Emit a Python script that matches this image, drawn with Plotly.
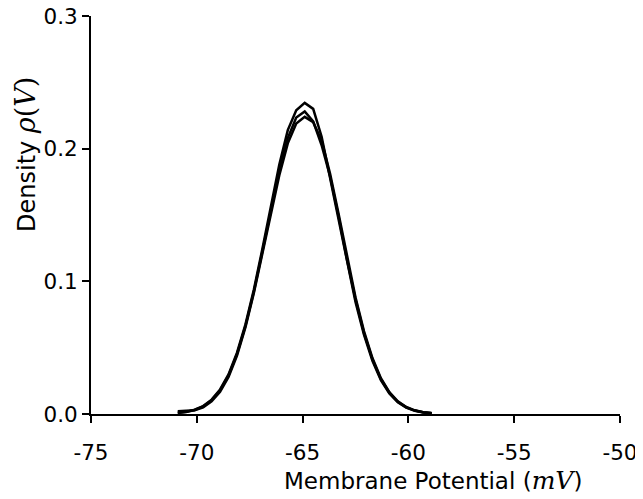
import plotly.graph_objects as go

# Membrane potential grid (mV)
potential = [-70.9, -70.5, -70.1, -69.7, -69.3, -68.9, -68.5, -68.1, -67.7, -67.3,
             -66.9, -66.5, -66.1, -65.7, -65.3, -64.9, -64.5, -64.1, -63.7, -63.3,
             -62.9, -62.5, -62.1, -61.7, -61.3, -60.9, -60.5, -60.1, -59.7, -59.3, -58.9]

density_a = [0.0010, 0.0016, 0.0032, 0.0060, 0.0108, 0.0185, 0.0298, 0.0462, 0.0676, 0.0940,
             0.1245, 0.1570, 0.1880, 0.2140, 0.2290, 0.2345, 0.2300, 0.2090, 0.1780, 0.1460,
             0.1135, 0.0845, 0.0598, 0.0400, 0.0255, 0.0155, 0.0088, 0.0048, 0.0024, 0.0011, 0.0005]

density_b = [0.0008, 0.0015, 0.0030, 0.0057, 0.0104, 0.0179, 0.0291, 0.0451, 0.0664, 0.0925,
             0.1225, 0.1540, 0.1837, 0.2080, 0.2235, 0.2280, 0.2206, 0.2026, 0.1790, 0.1490,
             0.1160, 0.0865, 0.0612, 0.0412, 0.0262, 0.0160, 0.0092, 0.0050, 0.0026, 0.0013, 0.0006]

density_c = [0.0020, 0.0022, 0.0028, 0.0050, 0.0095, 0.0168, 0.0280, 0.0440, 0.0655, 0.0915,
             0.1210, 0.1515, 0.1800, 0.2040, 0.2190, 0.2240, 0.2200, 0.2060, 0.1810, 0.1510,
             0.1180, 0.0880, 0.0625, 0.0422, 0.0270, 0.0165, 0.0096, 0.0053, 0.0028, 0.0014, 0.0007]

x_ticks = [-75, -70, -65, -60, -55, -50]
x_ticklabels = ["-75", "-70", "-65", "-60", "-55", "-50"]
y_ticks = [0.0, 0.1, 0.2, 0.3]
y_ticklabels = ["0.0", "0.1", "0.2", "0.3"]

FONT = "DejaVu Sans"
SERIF = "DejaVu Serif"

fig = go.Figure()
for d in (density_a, density_b, density_c):
    fig.add_trace(go.Scatter(x=potential, y=d, mode="lines",
                             line=dict(color="black", width=2.5),
                             showlegend=False, hoverinfo="skip"))

axis_common = dict(showline=True, linecolor="black", linewidth=2,
                   ticks="outside", ticklen=7, tickwidth=2, tickcolor="black",
                   showgrid=False, zeroline=False, automargin=False,
                   ticklabeloverflow="allow",
                   tickfont=dict(family=FONT, size=21.5, color="black"))

# The page body adds an 8px offset, so margins are shifted accordingly
fig.update_layout(
    width=643, height=499,
    margin=dict(l=83, r=31, t=8, b=93),
    paper_bgcolor="white", plot_bgcolor="white",
    xaxis=dict(range=[-75, -50], tickvals=x_ticks, ticktext=x_ticklabels,
               ticklabelstandoff=11, **axis_common),
    yaxis=dict(range=[0, 0.3], tickvals=y_ticks, ticktext=y_ticklabels,
               ticklabelstandoff=0, **axis_common),
    annotations=[
        dict(text=f"Membrane Potential (<span style='font-family:{SERIF};font-size:25px'><i>mV</i></span>)",
             xref="paper", yref="paper", x=(584 - 91) / 529, y=-(480 - 414) / 398,
             xanchor="right", yanchor="middle", showarrow=False,
             font=dict(family=FONT, size=23, color="black")),
        dict(text=f"Density <span style='font-family:{SERIF};font-size:27px'><i>ρ</i>(<i>V</i>)</span>",
             xref="paper", yref="paper", x=-(91 - 25) / 529, y=(414 - 155) / 398,
             xanchor="center", yanchor="middle", textangle=-90, showarrow=False,
             font=dict(family=FONT, size=24, color="black")),
    ],
)

fig.write_html("out.html")
